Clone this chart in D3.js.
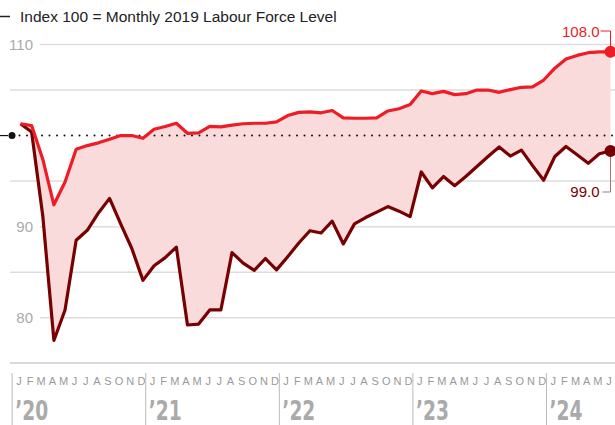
<!DOCTYPE html>
<html>
<head>
<meta charset="utf-8">
<script src="https://cdn.jsdelivr.net/npm/d3@7"></script>
<style>
  body { margin: 0; background: #fff; }
  svg { display: block; font-family: "Liberation Sans", Arial, sans-serif; }
</style>
</head>
<body>
<svg id="chart" width="615" height="425"></svg>
<script>
// Monthly index, Jan 2020 .. Jun 2024 (100 = monthly 2019 level)
var years = ["’20", "’21", "’22", "’23", "’24"]
var monthLetters = ["J", "F", "M", "A", "M", "J", "J", "A", "S", "O", "N", "D"]
var yTicks = [80, 85, 90, 95, 100, 105, 110]
var yLabels = [80, 90, 110]
var endLabels = ["108.0", "99.0"]

var upper = [
  101.3, 101.1, 97.4, 92.4, 94.9, 98.5, 98.9, 99.2, 99.6, 100.0, 100.0, 99.7,
  100.7, 101.0, 101.35, 100.25, 100.3, 101.0, 100.95, 101.15, 101.3, 101.35, 101.35, 101.5,
  102.2, 102.55, 102.6, 102.5, 102.75, 101.95, 101.9, 101.9, 101.95, 102.7, 102.95, 103.4,
  104.9, 104.6, 104.85, 104.5, 104.6, 105.0, 105.0, 104.75, 105.05, 105.3, 105.35, 106.1,
  107.4, 108.4, 108.8, 109.1, 109.2, 109.2
]
var lower = [
  101.3, 100.4, 91.2, 77.5, 80.85, 88.5, 89.6, 91.5, 93.1, 90.3, 87.6, 84.1,
  85.7, 86.6, 87.75, 79.2, 79.3, 80.85, 80.85, 87.15, 86.0, 85.2, 86.5, 85.25,
  86.7, 88.2, 89.55, 89.3, 90.6, 88.1, 90.3, 91.0, 91.6, 92.2, 91.7, 91.1,
  96.0, 94.25, 95.5, 94.5, 95.5, 96.6, 97.7, 98.75, 97.75, 98.4, 96.7, 95.1,
  97.7, 98.8, 97.9, 96.95, 98.0, 98.3
]

var RED = "#ee1c25"
var DARK = "#780000"

var svg = d3.select("#chart")

var x = d3.scaleLinear()
  .domain([0, upper.length - 1])
  .range([20.5, 610.5])

var y = d3.scaleLinear()
  .domain([80, 110])
  .range([317.7, 44.5])

// title row
svg.append("line")
  .attr("x1", 0).attr("x2", 10)
  .attr("y1", 16.5).attr("y2", 16.5)
  .attr("stroke", "#222").attr("stroke-width", 1.5)
svg.append("text")
  .attr("x", 20).attr("y", 22)
  .attr("font-size", 15.5)
  .attr("fill", "#222")
  .text("Index 100 = Monthly 2019 Labour Force Level")

// grid lines, labelled ones leave room for the label
svg.append("g")
  .selectAll("line")
  .data(yTicks.filter(d => d !== 100))
  .enter().append("line")
  .attr("x1", d => yLabels.includes(d) ? 40 : 10)
  .attr("x2", 615)
  .attr("y1", d => y(d)).attr("y2", d => y(d))
  .attr("stroke", "#ddd")
  .attr("stroke-width", 1.5)

svg.append("g")
  .selectAll("text")
  .data(yLabels)
  .enter().append("text")
  .attr("x", 33)
  .attr("y", d => y(d) + 5.5)
  .attr("text-anchor", "end")
  .attr("font-size", 15)
  .attr("fill", "#aaa")
  .text(d => d)

// shaded gap between the two series
var area = d3.area()
  .x((d, i) => x(i))
  .y0((d, i) => y(lower[i]))
  .y1(d => y(d))

svg.append("path")
  .datum(upper)
  .attr("d", area)
  .attr("fill", "#f9dbdc")

// baseline at 100
svg.append("line")
  .attr("x1", 0).attr("x2", 8)
  .attr("y1", y(100)).attr("y2", y(100))
  .attr("stroke", "#111").attr("stroke-width", 1.2)
svg.append("line")
  .attr("x1", 19.5).attr("x2", 615)
  .attr("y1", y(100)).attr("y2", y(100))
  .attr("stroke", "#111")
  .attr("stroke-width", 2)
  .attr("stroke-linecap", "round")
  .attr("stroke-dasharray", "0,7.5")
svg.append("circle")
  .attr("cx", 12).attr("cy", y(100)).attr("r", 3.5)
  .attr("fill", "#111")

var line = d3.line()
  .x((d, i) => x(i))
  .y(d => y(d))

svg.append("path")
  .datum(lower)
  .attr("d", line)
  .attr("fill", "none")
  .attr("stroke", DARK)
  .attr("stroke-width", 3.2)
  .attr("stroke-linejoin", "round")

svg.append("path")
  .datum(upper)
  .attr("d", line)
  .attr("fill", "none")
  .attr("stroke", RED)
  .attr("stroke-width", 3.2)
  .attr("stroke-linejoin", "round")

// end markers and callouts
var last = upper.length - 1
var xe = x(last)

svg.append("path")
  .attr("d", "M" + (xe - 10) + "," + 31 + "H" + xe + "V" + y(upper[last]))
  .attr("fill", "none").attr("stroke", RED).attr("stroke-width", 1)
svg.append("circle")
  .attr("cx", xe).attr("cy", y(upper[last])).attr("r", 6)
  .attr("fill", RED)
svg.append("text")
  .attr("x", xe - 11).attr("y", 37)
  .attr("text-anchor", "end")
  .attr("font-size", 15)
  .attr("fill", RED)
  .text(endLabels[0])

svg.append("path")
  .attr("d", "M" + xe + "," + y(lower[last]) + "V" + 192 + "H" + (xe - 8))
  .attr("fill", "none").attr("stroke", "#b07070").attr("stroke-width", 1)
svg.append("circle")
  .attr("cx", xe).attr("cy", y(lower[last])).attr("r", 6)
  .attr("fill", DARK)
svg.append("text")
  .attr("x", xe - 11).attr("y", 197)
  .attr("text-anchor", "end")
  .attr("font-size", 15)
  .attr("fill", DARK)
  .text(endLabels[1])

// bottom axis: year blocks with month initials
svg.append("line")
  .attr("x1", 10).attr("x2", 615)
  .attr("y1", 363).attr("y2", 363)
  .attr("stroke", "#ccc").attr("stroke-width", 1.5)

var yearG = svg.append("g")
  .selectAll("g")
  .data(years)
  .enter().append("g")
  .attr("transform", (d, i) => "translate(" + x(i * 12 - 0.75) + ",0)")

yearG.append("line")
  .attr("x1", 0).attr("x2", 0)
  .attr("y1", 373).attr("y2", 425)
  .attr("stroke", "#bbb").attr("stroke-width", 1)

yearG.selectAll("text.month")
  .data((d, i) => monthLetters.filter((m, j) => i * 12 + j <= last))
  .enter().append("text")
  .attr("class", "month")
  .attr("x", (d, j) => x(j) - x(0) + 6.8)
  .attr("y", 385)
  .attr("text-anchor", "middle")
  .attr("font-size", 11)
  .attr("fill", "#999")
  .text(d => d)

yearG.append("text")
  .attr("x", 3)
  .attr("y", 420)
  .attr("font-family", "'Liberation Sans Narrow', 'DejaVu Sans Condensed', sans-serif")
  .attr("font-weight", "bold")
  .attr("font-size", 27)
  .attr("textLength", 33)
  .attr("lengthAdjust", "spacingAndGlyphs")
  .attr("fill", "#aaa")
  .text(d => d)
</script>
</body>
</html>
